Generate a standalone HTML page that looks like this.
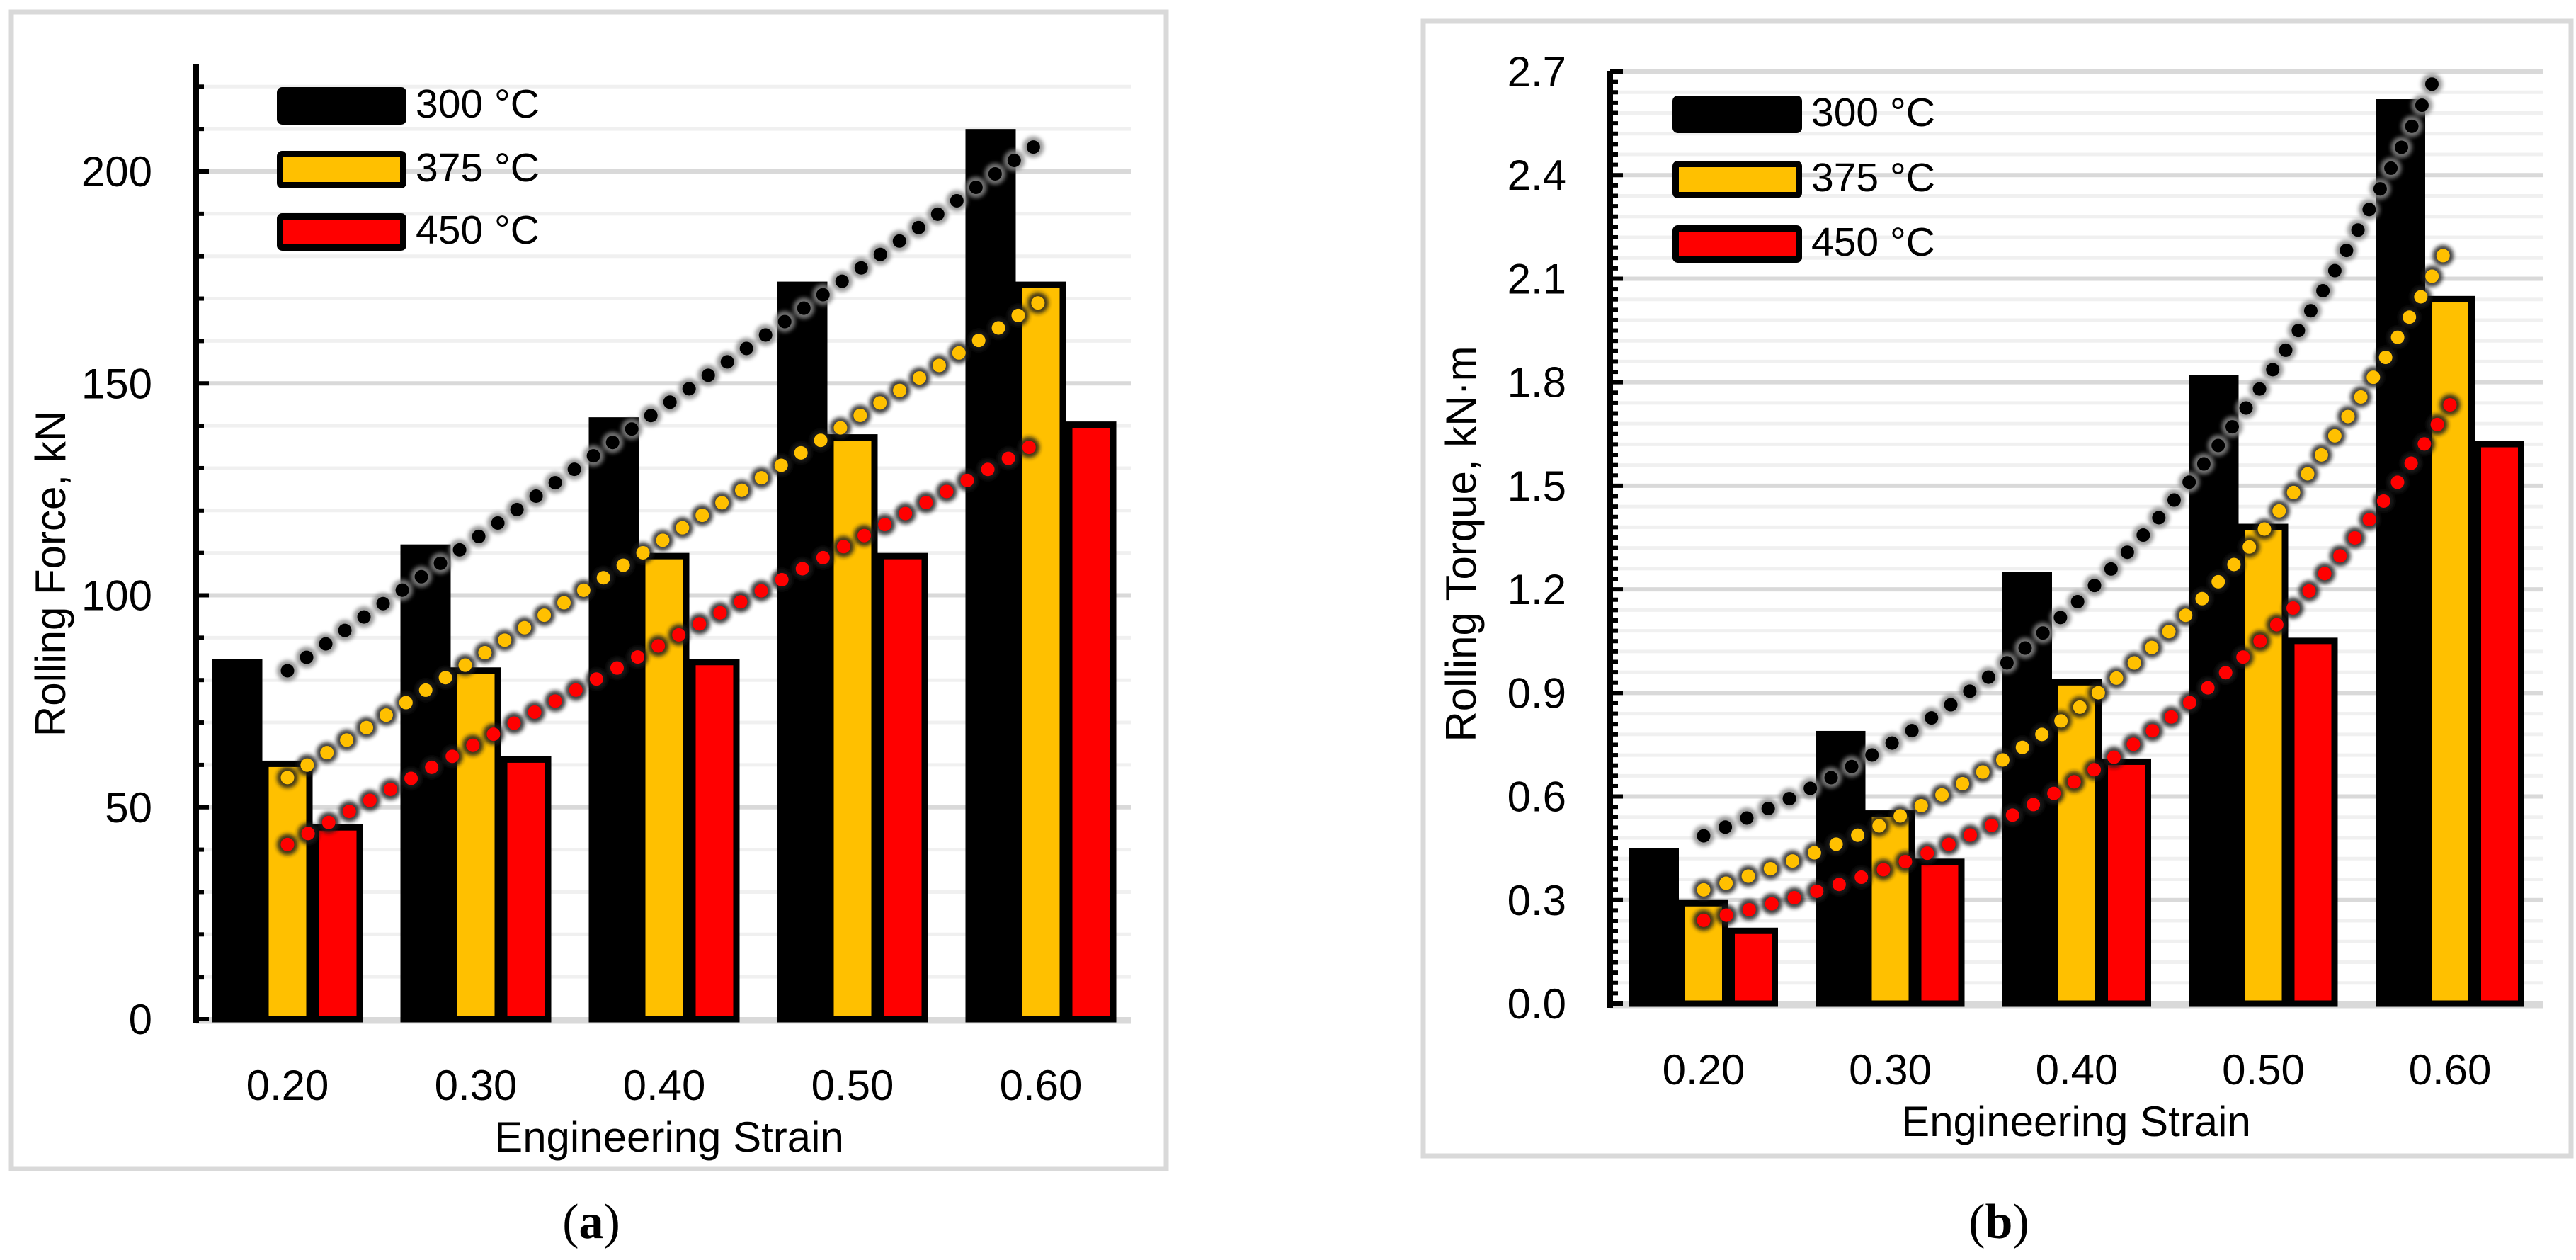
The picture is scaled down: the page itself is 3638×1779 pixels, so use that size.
<!DOCTYPE html>
<html><head><meta charset="utf-8">
<style>
html,body{margin:0;padding:0;background:#fff;}
svg{display:block;}
text{font-family:"Liberation Sans",sans-serif;fill:#000;}
</style></head>
<body>
<svg id="fig" width="3638" height="1779" viewBox="0 0 3638 1779" xmlns="http://www.w3.org/2000/svg">
<defs>
<filter id="blur" x="-10%" y="-10%" width="120%" height="120%"><feGaussianBlur stdDeviation="3"/></filter>
</defs>
</svg>
<script>
// ---- shared data ----
const categories = ["0.20","0.30","0.40","0.50","0.60"];
const strainValues = [0.2,0.3,0.4,0.5,0.6];
const seriesNames = ["300 °C","375 °C","450 °C"];
const seriesColors = ["#000000","#ffc000","#ff0000"];
// ---- chart (a) Rolling force ----
const forceTicks = [0,50,100,150,200];
const force300 = [85,112,142,174,210];
const force375 = [61,83,110,138,174];
const force450 = [46,62,85,110,141];
// ---- chart (b) Rolling torque ----
const torqueTicks = [0.0,0.3,0.6,0.9,1.2,1.5,1.8,2.1,2.4,2.7];
const torque300 = [0.45,0.79,1.25,1.82,2.62];
const torque375 = [0.30,0.56,0.94,1.39,2.05];
const torque450 = [0.22,0.42,0.71,1.06,1.63];

const NS="http://www.w3.org/2000/svg";
const svg=document.getElementById('fig');
function mk(tag,attrs,parent){const e=document.createElementNS(NS,tag);for(const k in attrs)e.setAttribute(k,attrs[k]);(parent||svg).appendChild(e);return e;}

function fitTrend(vals,type){
  const n=vals.length;const xs=vals.map((v,i)=>i);
  const ys=type==='exp'?vals.map(v=>Math.log(v)):vals.slice();
  const mx=xs.reduce((a,b)=>a+b)/n,my=ys.reduce((a,b)=>a+b)/n;
  let sxy=0,sxx=0;xs.forEach((x,i)=>{sxy+=(x-mx)*(ys[i]-my);sxx+=(x-mx)*(x-mx);});
  const b=sxy/sxx,a=my-b*mx;
  return t=>type==='exp'?Math.exp(a+b*t):a+b*t;
}

function drawChart(c){
  const g=mk('g',{});
  
  
  const y=v=>c.y0-(v-c.vmin)*c.ppu;
  const x=i=>c.cx0+i*c.step;
  const fr=mk('rect',{x:c.fx,y:c.fy,width:c.fw,height:c.fh,fill:'#fff',stroke:'#d9d9d9','stroke-width':7},g);
  
  for(let v=c.vmin;v<=c.vmax+1e-9;v+=c.minor){
    const isMajor=Math.abs(Math.round((v-c.vmin)/c.major)*c.major-(v-c.vmin))<1e-6;
    const l=mk('line',{x1:c.ax,x2:c.gx2,y1:y(v),y2:y(v),stroke:isMajor?'#d9d9d9':'#f0f0f0','stroke-width':isMajor?6:5},g);
    
  }
  const xb=mk('line',{x1:c.ax,x2:c.gx2,y1:c.y0+3,y2:c.y0+3,stroke:'#d9d9d9','stroke-width':7},g);
  
  const sets=c.series;
  sets.forEach((vals,s)=>{
    vals.forEach((v,i)=>{
      const cx=x(i)+(s-1)*c.bw;
      const r=mk('rect',{x:cx-c.bw/2+4.5,y:y(v)+4.5,width:c.bw-9,height:c.y0-y(v)-4.5,fill:seriesColors[s],stroke:'#000','stroke-width':9},g);
      
      
    });
  });
  sets.forEach((vals,s)=>{
    const f=fitTrend(vals,c.trend);
    let pts=[];
    for(let k=0;k<=200;k++){const t=k/200*(vals.length-1);let vv=f(t);if(vv>c.vmax)break;pts.push([x(0)+t*c.step,y(vv)]);}
    const d='M'+pts.map(p=>p[0].toFixed(1)+','+p[1].toFixed(1)).join(' L');
    const glow=mk('path',{d:d,fill:'none',stroke:s===0?'#888':'#1a1a1a','stroke-width':30,'stroke-linecap':'round','stroke-dasharray':'0 33',opacity:0.85,filter:'url(#blur)'},g);
    
    const p=mk('path',{d:d,fill:'none',stroke:seriesColors[s],'stroke-width':19,'stroke-linecap':'round','stroke-dasharray':'0 33'},g);
    
    
  });
  const ya=mk('line',{x1:c.ax,x2:c.ax,y1:c.atop,y2:c.y0+6,stroke:'#000','stroke-width':8},g);
  
  for(let v=c.vmin;v<=c.vmax+1e-9;v+=c.tickStep){
    const isMajor=Math.abs(Math.round((v-c.vmin)/c.major)*c.major-(v-c.vmin))<1e-6;
    const t=mk('line',{x1:c.ax,x2:c.ax+(isMajor?18:11),y1:y(v),y2:y(v),stroke:'#000','stroke-width':6},g);
    
  }
  c.ticks.forEach(v=>{
    const t=mk('text',{x:c.tlx,y:y(v)+21,'text-anchor':'end','font-size':60},g);
    t.textContent=c.fmt(v);
    
  });
  categories.forEach((cat,i)=>{
    const t=mk('text',{x:x(i),y:c.y0+114,'text-anchor':'middle','font-size':60},g);
    t.textContent=cat;
    
  });
  const xt=mk('text',{x:c.xtx,y:c.y0+187,'text-anchor':'middle','font-size':60},g);
  xt.textContent='Engineering Strain';
  
  const yt=mk('text',{x:0,y:0,'text-anchor':'middle','font-size':60,transform:'translate('+c.ytx+','+c.yty+') rotate(-90)'},g);
  yt.textContent=c.ytitle;
  
  seriesNames.forEach((n,s)=>{
    const cy=c.legY[s];
    const r=mk('rect',{x:c.legX+4.5,y:cy-22+4.5,width:174,height:44,fill:seriesColors[s],stroke:'#000','stroke-width':9,rx:3},g);
    
    const t=mk('text',{x:c.legX+196,y:cy+21,'font-size':57},g);
    t.textContent=n;
    
  });
  const cap=mk('text',{x:c.capx,y:1748,'text-anchor':'middle','font-size':70,style:'font-family:"Liberation Serif",serif'},g);
  cap.innerHTML='(<tspan font-weight="bold">'+c.cap+'</tspan>)';
  
}

drawChart({name:'rolling-force-chart',short:'force',series:[force300,force375,force450],trend:'lin',
  fx:16,fy:17,fw:1631,fh:1633,ax:277,atop:90,gx2:1597,y0:1439,vmin:0,vmax:225,ppu:5.985,
  minor:10,major:50,tickStep:10,ticks:forceTicks,fmt:v=>String(v),
  cx0:406,step:266,bw:71,tlx:215,xtx:945,ytx:92,yty:810,ytitle:'Rolling Force, kN',
  legX:391,legY:[145,235,323],capx:835,cap:'a'});

drawChart({name:'rolling-torque-chart',short:'torque',series:[torque300,torque375,torque450],trend:'exp',
  fx:2010,fy:30,fw:1621,fh:1602,ax:2274,atop:100,gx2:3591,y0:1417,vmin:0,vmax:2.7,ppu:487.4,
  minor:0.06,major:0.3,tickStep:0.03,ticks:torqueTicks,fmt:v=>v.toFixed(1),
  cx0:2406,step:263.5,bw:70,tlx:2212,xtx:2932,ytx:2084,yty:768,ytitle:'Rolling Torque, kN·m',
  legX:2362,legY:[157,249,340],capx:2823,cap:'b'});
</script>
</body></html>
